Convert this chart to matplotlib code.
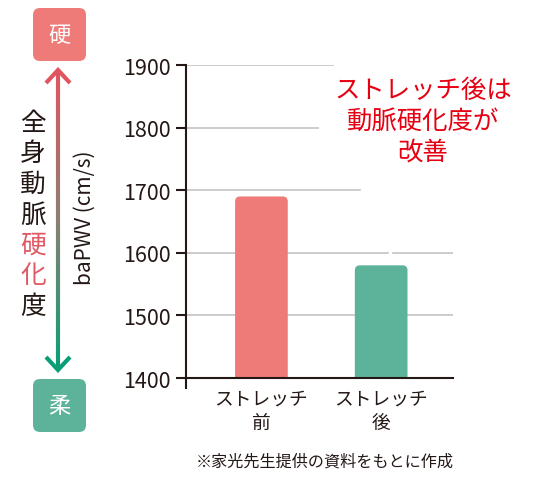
import numpy as np
import matplotlib
matplotlib.use("Agg")
import matplotlib.pyplot as plt
from matplotlib.patches import FancyBboxPatch
from matplotlib.collections import LineCollection
from matplotlib.colors import LinearSegmentedColormap

plt.rcParams['font.family'] = ['Noto Sans CJK JP', 'DejaVu Sans']

# データ
categories = ['ストレッチ\n前', 'ストレッチ\n後']
values = [1690, 1580]
bar_colors = ['#ee7b78', '#5db39a']
yticks = [1400, 1500, 1600, 1700, 1800, 1900]
ylabel = 'baPWV (cm/s)'
note = 'ストレッチ後は\n動脈硬化度が\n改善'
footnote = '※家光先生提供の資料をもとに作成'
side_chars = ['全', '身', '動', '脈', '硬', '化', '度']
side_red = ['硬', '化']

TXT = '#231815'
W, H = 550, 481
fig = plt.figure(figsize=(W / 100, H / 100), dpi=100)

# 軸 (ピクセル座標から位置を決める)
ax_l, ax_r, ax_t, ax_b = 186, 453, 66, 379
ax = fig.add_axes([ax_l / W, 1 - ax_b / H, (ax_r - ax_l) / W, (ax_b - ax_t) / H])
ax.patch.set_visible(False)
ax.set_ylim(1400, 1900)
ax.set_xlim(-0.63, 1.6)

x = np.arange(len(categories))
bars = ax.bar(x, [v - 1380 for v in values], bottom=1380, width=0.44, color=bar_colors)

# 角丸のバーに置き換え
px_x = (ax_r - ax_l) / 2.23
px_y = (ax_b - ax_t) / 500
for b, c in zip(bars, bar_colors):
    b.set_visible(False)
    r = FancyBboxPatch((b.get_x(), b.get_y()), b.get_width(), b.get_height(),
                       boxstyle='round,pad=0,rounding_size=%f' % (5 / px_x),
                       mutation_aspect=px_x / px_y,
                       facecolor=c, edgecolor='none', zorder=2)
    ax.add_patch(r)

# グリッド線 (注釈の背景で一部切れている)
grid_spans = {1500: [(0, 1)], 1600: [(0, 0.757), (0.775, 1)],
              1700: [(0, 0.652)], 1800: [(0, 0.494)], 1900: [(0, 0.55)]}
for yv, spans in grid_spans.items():
    for a, bnd in spans:
        ax.axhline(yv, xmin=a, xmax=bnd, color='#c4c4c4', lw=1.2, zorder=1)

for s in ['top', 'right']:
    ax.spines[s].set_visible(False)
ax.spines['left'].set_bounds(1384, 1900)
ax.spines['left'].set_color(TXT)
ax.spines['left'].set_linewidth(1.5)
ax.spines['bottom'].set_color(TXT)
ax.spines['bottom'].set_linewidth(1.5)
ax.spines['bottom'].set_zorder(3)

ax.set_yticks(yticks)
ax.tick_params(axis='y', direction='out', length=7.2, width=1.5, color=TXT,
               labelsize=15.5, labelcolor=TXT, pad=4)
ax.set_xticks(x)
ax.set_xticklabels(categories, linespacing=1.2)
ax.tick_params(axis='x', length=0, labelsize=13.5, labelcolor=TXT, pad=7)

# オーバーレイ (ピクセル座標)
ov = fig.add_axes([0, 0, 1, 1], zorder=-1)
ov.set_xlim(0, W)
ov.set_ylim(H, 0)
ov.axis('off')

ov.text(85, 218, ylabel, rotation=90, ha='center', va='center', fontsize=15, color=TXT)
ov.text(423, 122, note, ha='center', va='center', fontsize=18.3, color='#e60012',
        linespacing=1.25)
ov.text(325, 462, footnote, ha='center', va='center', fontsize=11.6, color=TXT)

# 硬 / 柔 のボックス
for (y0, lab, col) in [(9, '硬', '#ee7b78'), (380, '柔', '#5db39a')]:
    box = FancyBboxPatch((33, y0), 53, 53, boxstyle='round,pad=0,rounding_size=7',
                         facecolor=col, edgecolor='none')
    ov.add_patch(box)
    ov.text(59.5, y0 + 26.5, lab, ha='center', va='center', fontsize=16, color='white')

# グラデーション矢印
cmap = LinearSegmentedColormap.from_list('arr', ['#e0555f', '#8a7f73', '#0a9e77'])
ys = np.linspace(71, 371, 200)
segs = [[(58, ys[i]), (58, ys[i + 1])] for i in range(len(ys) - 1)]
lc = LineCollection(segs, colors=cmap(np.linspace(0, 1, len(segs))), linewidths=3,
                    capstyle='butt')
ov.add_collection(lc)
ov.plot([46, 58, 70], [84, 71, 84], color='#e0555f', lw=3, solid_capstyle='butt',
        solid_joinstyle='miter')
ov.plot([46, 58, 70], [358, 371, 358], color='#0a9e77', lw=3, solid_capstyle='butt',
        solid_joinstyle='miter')

# 縦書きラベル
for i, ch in enumerate(side_chars):
    col = '#e05a66' if ch in side_red else TXT
    ov.text(33, 124 + i * 30.5, ch, ha='center', va='center', fontsize=18.5, color=col)

fig.savefig('out.png', dpi=100)
